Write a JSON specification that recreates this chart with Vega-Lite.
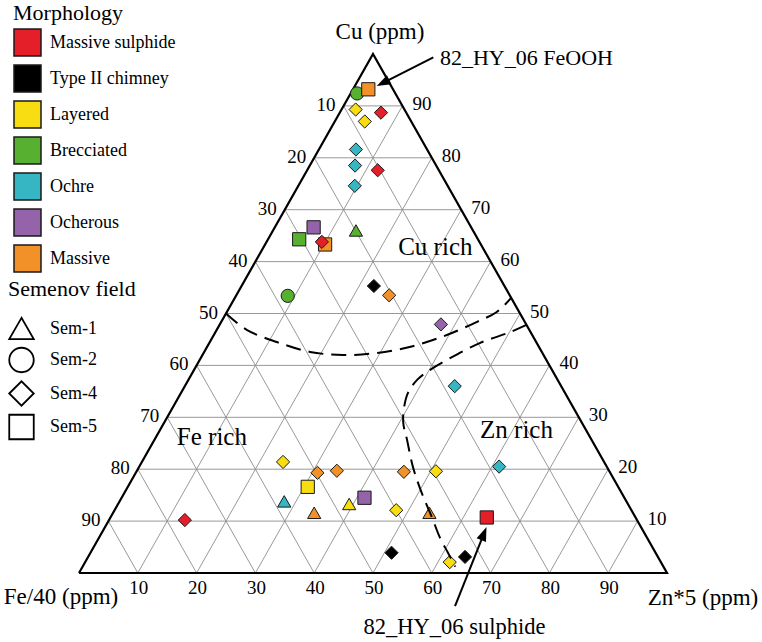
{
  "$schema": "https://vega.github.io/schema/vega-lite/v6.json",
  "width": 762,
  "height": 642,
  "autosize": "none",
  "padding": 0,
  "background": "white",
  "config": {
    "view": {"stroke": null},
    "font": "Liberation Serif"
  },
  "datasets": {
    "samples": [
      {"morph": "Brecciated", "sem": "Sem-2", "cu": 92.4, "zn": 1.1, "fe": 6.5},
      {"morph": "Massive", "sem": "Sem-5", "cu": 93.2, "zn": 2.6, "fe": 4.2},
      {"morph": "Layered", "sem": "Sem-4", "cu": 89.3, "zn": 2.4, "fe": 8.3},
      {"morph": "Massive sulphide", "sem": "Sem-4", "cu": 88.7, "zn": 7.0, "fe": 4.3},
      {"morph": "Layered", "sem": "Sem-4", "cu": 87.0, "zn": 5.1, "fe": 7.9},
      {"morph": "Ochre", "sem": "Sem-4", "cu": 81.6, "zn": 6.3, "fe": 12.1},
      {"morph": "Ochre", "sem": "Sem-4", "cu": 78.5, "zn": 7.7, "fe": 13.8},
      {"morph": "Massive sulphide", "sem": "Sem-4", "cu": 77.6, "zn": 12.0, "fe": 10.4},
      {"morph": "Ochre", "sem": "Sem-4", "cu": 74.6, "zn": 9.6, "fe": 15.8},
      {"morph": "Ocherous", "sem": "Sem-5", "cu": 66.6, "zn": 6.6, "fe": 26.8},
      {"morph": "Brecciated", "sem": "Sem-5", "cu": 64.3, "zn": 5.3, "fe": 30.4},
      {"morph": "Brecciated", "sem": "Sem-1", "cu": 66.0, "zn": 14.1, "fe": 19.9},
      {"morph": "Massive", "sem": "Sem-5", "cu": 63.3, "zn": 10.2, "fe": 26.5},
      {"morph": "Massive sulphide", "sem": "Sem-4", "cu": 63.8, "zn": 9.4, "fe": 26.8},
      {"morph": "Brecciated", "sem": "Sem-2", "cu": 53.4, "zn": 8.8, "fe": 37.8},
      {"morph": "Type II chimney", "sem": "Sem-4", "cu": 55.3, "zn": 22.5, "fe": 22.2},
      {"morph": "Massive", "sem": "Sem-4", "cu": 53.5, "zn": 26.0, "fe": 20.5},
      {"morph": "Ocherous", "sem": "Sem-4", "cu": 47.9, "zn": 37.6, "fe": 14.5},
      {"morph": "Ochre", "sem": "Sem-4", "cu": 36.0, "zn": 45.9, "fe": 18.1},
      {"morph": "Layered", "sem": "Sem-4", "cu": 21.4, "zn": 24.0, "fe": 54.6},
      {"morph": "Massive", "sem": "Sem-4", "cu": 19.3, "zn": 30.9, "fe": 49.8},
      {"morph": "Massive", "sem": "Sem-4", "cu": 19.7, "zn": 34.0, "fe": 46.3},
      {"morph": "Layered", "sem": "Sem-5", "cu": 16.6, "zn": 30.6, "fe": 52.8},
      {"morph": "Ochre", "sem": "Sem-1", "cu": 13.8, "zn": 28.0, "fe": 58.2},
      {"morph": "Massive", "sem": "Sem-1", "cu": 11.6, "zn": 34.2, "fe": 54.2},
      {"morph": "Layered", "sem": "Sem-1", "cu": 13.3, "zn": 39.3, "fe": 47.4},
      {"morph": "Ocherous", "sem": "Sem-5", "cu": 14.5, "zn": 41.3, "fe": 44.2},
      {"morph": "Massive sulphide", "sem": "Sem-4", "cu": 10.2, "zn": 12.9, "fe": 76.9},
      {"morph": "Massive", "sem": "Sem-4", "cu": 19.5, "zn": 45.5, "fe": 35.0},
      {"morph": "Layered", "sem": "Sem-4", "cu": 19.6, "zn": 50.9, "fe": 29.5},
      {"morph": "Ochre", "sem": "Sem-4", "cu": 20.5, "zn": 61.2, "fe": 18.3},
      {"morph": "Layered", "sem": "Sem-4", "cu": 12.1, "zn": 47.9, "fe": 40.0},
      {"morph": "Massive", "sem": "Sem-1", "cu": 11.6, "zn": 53.8, "fe": 34.6},
      {"morph": "Massive sulphide", "sem": "Sem-5", "cu": 10.7, "zn": 64.0, "fe": 25.3},
      {"morph": "Type II chimney", "sem": "Sem-4", "cu": 3.9, "zn": 51.2, "fe": 44.9},
      {"morph": "Layered", "sem": "Sem-4", "cu": 2.1, "zn": 62.0, "fe": 35.9},
      {"morph": "Type II chimney", "sem": "Sem-4", "cu": 3.1, "zn": 64.1, "fe": 32.8}
    ],
    "grid": [
      {"cu1": 10, "zn1": 0, "cu2": 10, "zn2": 90},
      {"cu1": 20, "zn1": 0, "cu2": 20, "zn2": 80},
      {"cu1": 30, "zn1": 0, "cu2": 30, "zn2": 70},
      {"cu1": 40, "zn1": 0, "cu2": 40, "zn2": 60},
      {"cu1": 50, "zn1": 0, "cu2": 50, "zn2": 50},
      {"cu1": 60, "zn1": 0, "cu2": 60, "zn2": 40},
      {"cu1": 70, "zn1": 0, "cu2": 70, "zn2": 30},
      {"cu1": 80, "zn1": 0, "cu2": 80, "zn2": 20},
      {"cu1": 90, "zn1": 0, "cu2": 90, "zn2": 10},
      {"cu1": 0, "zn1": 10, "cu2": 90, "zn2": 10},
      {"cu1": 0, "zn1": 20, "cu2": 80, "zn2": 20},
      {"cu1": 0, "zn1": 30, "cu2": 70, "zn2": 30},
      {"cu1": 0, "zn1": 40, "cu2": 60, "zn2": 40},
      {"cu1": 0, "zn1": 50, "cu2": 50, "zn2": 50},
      {"cu1": 0, "zn1": 60, "cu2": 40, "zn2": 60},
      {"cu1": 0, "zn1": 70, "cu2": 30, "zn2": 70},
      {"cu1": 0, "zn1": 80, "cu2": 20, "zn2": 80},
      {"cu1": 0, "zn1": 90, "cu2": 10, "zn2": 90},
      {"cu1": 0, "zn1": 90, "cu2": 90, "zn2": 0},
      {"cu1": 0, "zn1": 80, "cu2": 80, "zn2": 0},
      {"cu1": 0, "zn1": 70, "cu2": 70, "zn2": 0},
      {"cu1": 0, "zn1": 60, "cu2": 60, "zn2": 0},
      {"cu1": 0, "zn1": 50, "cu2": 50, "zn2": 0},
      {"cu1": 0, "zn1": 40, "cu2": 40, "zn2": 0},
      {"cu1": 0, "zn1": 30, "cu2": 30, "zn2": 0},
      {"cu1": 0, "zn1": 20, "cu2": 20, "zn2": 0},
      {"cu1": 0, "zn1": 10, "cu2": 10, "zn2": 0}
    ],
    "outline": [
      {"i": 0, "cu": 0, "zn": 0},
      {"i": 1, "cu": 100, "zn": 0},
      {"i": 2, "cu": 0, "zn": 100},
      {"i": 3, "cu": 0, "zn": 0}
    ],
    "boundaries": [
      {"curve": "upper", "i": 0, "cu": 50.0, "zn": 0.0},
      {"curve": "upper", "i": 1, "cu": 46.8, "zn": 5.2},
      {"curve": "upper", "i": 2, "cu": 44.5, "zn": 11.4},
      {"curve": "upper", "i": 3, "cu": 42.6, "zn": 18.0},
      {"curve": "upper", "i": 4, "cu": 42.0, "zn": 23.9},
      {"curve": "upper", "i": 5, "cu": 42.4, "zn": 29.5},
      {"curve": "upper", "i": 6, "cu": 43.7, "zn": 34.9},
      {"curve": "upper", "i": 7, "cu": 45.9, "zn": 39.7},
      {"curve": "upper", "i": 8, "cu": 48.4, "zn": 43.5},
      {"curve": "upper", "i": 9, "cu": 50.3, "zn": 45.9},
      {"curve": "upper", "i": 10, "cu": 53.0, "zn": 47.0},
      {"curve": "lower", "i": 0, "cu": 47.8, "zn": 52.2},
      {"curve": "lower", "i": 1, "cu": 46.4, "zn": 50.1},
      {"curve": "lower", "i": 2, "cu": 44.3, "zn": 46.0},
      {"curve": "lower", "i": 3, "cu": 41.4, "zn": 42.4},
      {"curve": "lower", "i": 4, "cu": 39.1, "zn": 40.1},
      {"curve": "lower", "i": 5, "cu": 37.2, "zn": 38.9},
      {"curve": "lower", "i": 6, "cu": 34.7, "zn": 38.6},
      {"curve": "lower", "i": 7, "cu": 32.0, "zn": 39.3},
      {"curve": "lower", "i": 8, "cu": 28.9, "zn": 40.7},
      {"curve": "lower", "i": 9, "cu": 25.6, "zn": 43.0},
      {"curve": "lower", "i": 10, "cu": 20.4, "zn": 46.6},
      {"curve": "lower", "i": 11, "cu": 15.4, "zn": 50.6},
      {"curve": "lower", "i": 12, "cu": 10.8, "zn": 54.6},
      {"curve": "lower", "i": 13, "cu": 6.9, "zn": 57.9},
      {"curve": "lower", "i": 14, "cu": 3.9, "zn": 60.8},
      {"curve": "lower", "i": 15, "cu": 1.2, "zn": 63.4}
    ],
    "ticks": [
      {"side": "left", "label": "10", "cu": 90, "zn": 0},
      {"side": "left", "label": "20", "cu": 80, "zn": 0},
      {"side": "left", "label": "30", "cu": 70, "zn": 0},
      {"side": "left", "label": "40", "cu": 60, "zn": 0},
      {"side": "left", "label": "50", "cu": 50, "zn": 0},
      {"side": "left", "label": "60", "cu": 40, "zn": 0},
      {"side": "left", "label": "70", "cu": 30, "zn": 0},
      {"side": "left", "label": "80", "cu": 20, "zn": 0},
      {"side": "left", "label": "90", "cu": 10, "zn": 0},
      {"side": "right", "label": "90", "cu": 90, "zn": 10},
      {"side": "right", "label": "80", "cu": 80, "zn": 20},
      {"side": "right", "label": "70", "cu": 70, "zn": 30},
      {"side": "right", "label": "60", "cu": 60, "zn": 40},
      {"side": "right", "label": "50", "cu": 50, "zn": 50},
      {"side": "right", "label": "40", "cu": 40, "zn": 60},
      {"side": "right", "label": "30", "cu": 30, "zn": 70},
      {"side": "right", "label": "20", "cu": 20, "zn": 80},
      {"side": "right", "label": "10", "cu": 10, "zn": 90},
      {"side": "bottom", "label": "10", "cu": 0, "zn": 10},
      {"side": "bottom", "label": "20", "cu": 0, "zn": 20},
      {"side": "bottom", "label": "30", "cu": 0, "zn": 30},
      {"side": "bottom", "label": "40", "cu": 0, "zn": 40},
      {"side": "bottom", "label": "50", "cu": 0, "zn": 50},
      {"side": "bottom", "label": "60", "cu": 0, "zn": 60},
      {"side": "bottom", "label": "70", "cu": 0, "zn": 70},
      {"side": "bottom", "label": "80", "cu": 0, "zn": 80},
      {"side": "bottom", "label": "90", "cu": 0, "zn": 90}
    ],
    "vertices": [
      {"apex": "Cu", "label": "Cu (ppm)", "cu": 100, "zn": 0},
      {"apex": "Fe", "label": "Fe/40 (ppm)", "cu": 0, "zn": 0},
      {"apex": "Zn", "label": "Zn*5 (ppm)", "cu": 0, "zn": 100}
    ],
    "fields": [
      {"label": "Cu rich", "cu": 62.8, "zn": 29.2},
      {"label": "Zn rich", "cu": 27.6, "zn": 60.6},
      {"label": "Fe rich", "cu": 26.2, "zn": 9.5}
    ],
    "arrows": [
      {"sample": "FeOOH", "x": 60.26, "y": 99.36, "x2": 51.54, "y2": 94.36, "tx": 50.63, "ty": 93.83, "ang": 243.1},
      {"sample": "sulphide", "x": 63.95, "y": -6.36, "x2": 68.93, "y2": 7.79, "tx": 69.3, "ty": 8.86, "ang": 21.7}
    ],
    "notes": [
      {"label": "82_HY_06 FeOOH", "x": 61.39, "y": 99.23, "pos": "left"},
      {"label": "82_HY_06 sulphide", "x": 63.86, "y": -10.4, "pos": "center"}
    ]
  },
  "layer": [
    {
      "data": {"name": "grid"},
      "transform": [
        {"calculate": "datum.zn1 + datum.cu1 / 2", "as": "px1"},
        {"calculate": "datum.cu1", "as": "py1"},
        {"calculate": "datum.zn2 + datum.cu2 / 2", "as": "px2"},
        {"calculate": "datum.cu2", "as": "py2"}
      ],
      "mark": {"type": "rule", "stroke": "#8d8d8d", "strokeWidth": 0.9},
      "encoding": {
        "x": {"field": "px1", "type": "quantitative", "axis": null, "scale": {"domain": [0, 100], "range": [79, 667], "nice": false, "zero": false}},
        "y": {"field": "py1", "type": "quantitative", "axis": null, "scale": {"domain": [0, 100], "range": [573, 54], "nice": false, "zero": false}},
        "x2": {"field": "px2"},
        "y2": {"field": "py2"}
      }
    },
    {
      "data": {"name": "outline"},
      "transform": [
        {"calculate": "datum.zn + datum.cu / 2", "as": "px"},
        {"calculate": "datum.cu", "as": "py"}
      ],
      "mark": {"type": "line", "color": "black", "strokeWidth": 2.2, "strokeJoin": "miter", "strokeMiterLimit": 10},
      "encoding": {
        "x": {"field": "px", "type": "quantitative"},
        "y": {"field": "py", "type": "quantitative"},
        "order": {"field": "i", "type": "quantitative"}
      }
    },
    {
      "data": {"name": "samples"},
      "transform": [
        {"calculate": "datum.zn + datum.cu / 2", "as": "px"},
        {"calculate": "datum.cu", "as": "py"}
      ],
      "mark": {"type": "point", "filled": true, "opacity": 1, "stroke": "#1a1a1a", "strokeWidth": 1, "size": 175},
      "encoding": {
        "x": {"field": "px", "type": "quantitative"},
        "y": {"field": "py", "type": "quantitative"},
        "color": {
          "field": "morph",
          "type": "nominal",
          "scale": {
            "domain": ["Massive sulphide", "Type II chimney", "Layered", "Brecciated", "Ochre", "Ocherous", "Massive"],
            "range": ["#e41f2a", "#000000", "#f7dd12", "#58b031", "#36b6c2", "#9563a9", "#f29127"]
          },
          "legend": {
            "title": "Morphology",
            "orient": "none",
            "legendX": 13,
            "legendY": 3,
            "padding": 0,
            "symbolType": "square",
            "symbolSize": 729,
            "symbolStrokeColor": "#1a1a1a",
            "symbolStrokeWidth": 1.5,
            "symbolOpacity": 1,
            "labelFont": "Liberation Serif",
            "labelFontSize": 18,
            "labelColor": "black",
            "labelOffset": 8,
            "titleFont": "Liberation Serif",
            "titleFontSize": 22,
            "titleFontWeight": "normal",
            "titleColor": "black",
            "titlePadding": 3,
            "rowPadding": 3
          }
        },
        "shape": {
          "field": "sem",
          "type": "nominal",
          "scale": {
            "domain": ["Sem-1", "Sem-2", "Sem-4", "Sem-5"],
            "range": ["triangle-up", "circle", "diamond", "square"]
          },
          "legend": {
            "title": "Semenov field",
            "orient": "none",
            "legendX": 8,
            "legendY": 279,
            "padding": 0,
            "symbolSize": 600,
            "symbolFillColor": "white",
            "symbolStrokeColor": "black",
            "symbolStrokeWidth": 1.8,
            "symbolOpacity": 1,
            "labelFont": "Liberation Serif",
            "labelFontSize": 18,
            "labelColor": "black",
            "labelOffset": 15,
            "titleFont": "Liberation Serif",
            "titleFontSize": 22,
            "titleFontWeight": "normal",
            "titleColor": "black",
            "titlePadding": 14,
            "rowPadding": 0.5
          }
        }
      }
    },
    {
      "data": {"name": "boundaries"},
      "transform": [
        {"calculate": "datum.zn + datum.cu / 2", "as": "px"},
        {"calculate": "datum.cu", "as": "py"}
      ],
      "mark": {"type": "line", "color": "black", "strokeWidth": 2, "strokeDash": [15, 8], "interpolate": "catmull-rom"},
      "encoding": {
        "x": {"field": "px", "type": "quantitative"},
        "y": {"field": "py", "type": "quantitative"},
        "detail": {"field": "curve", "type": "nominal"},
        "order": {"field": "i", "type": "quantitative"}
      }
    },
    {
      "data": {"name": "ticks"},
      "transform": [
        {"filter": "datum.side == 'left'"},
        {"calculate": "datum.zn + datum.cu / 2", "as": "px"},
        {"calculate": "datum.cu", "as": "py"}
      ],
      "mark": {"type": "text", "font": "Liberation Serif", "color": "black", "align": "right", "baseline": "middle", "dx": -8, "dy": -1, "fontSize": 19},
      "encoding": {
        "x": {"field": "px", "type": "quantitative"},
        "y": {"field": "py", "type": "quantitative"},
        "text": {"field": "label"}
      }
    },
    {
      "data": {"name": "ticks"},
      "transform": [
        {"filter": "datum.side == 'right'"},
        {"calculate": "datum.zn + datum.cu / 2", "as": "px"},
        {"calculate": "datum.cu", "as": "py"}
      ],
      "mark": {"type": "text", "font": "Liberation Serif", "color": "black", "align": "left", "baseline": "middle", "dx": 10, "dy": -2, "fontSize": 19},
      "encoding": {
        "x": {"field": "px", "type": "quantitative"},
        "y": {"field": "py", "type": "quantitative"},
        "text": {"field": "label"}
      }
    },
    {
      "data": {"name": "ticks"},
      "transform": [
        {"filter": "datum.side == 'bottom'"},
        {"calculate": "datum.zn + datum.cu / 2", "as": "px"},
        {"calculate": "datum.cu", "as": "py"}
      ],
      "mark": {"type": "text", "font": "Liberation Serif", "color": "black", "align": "center", "baseline": "middle", "dx": 1, "dy": 15, "fontSize": 19},
      "encoding": {
        "x": {"field": "px", "type": "quantitative"},
        "y": {"field": "py", "type": "quantitative"},
        "text": {"field": "label"}
      }
    },
    {
      "data": {"name": "vertices"},
      "transform": [
        {"filter": "datum.apex == 'Cu'"},
        {"calculate": "datum.zn + datum.cu / 2", "as": "px"},
        {"calculate": "datum.cu", "as": "py"}
      ],
      "mark": {"type": "text", "font": "Liberation Serif", "color": "black", "align": "center", "baseline": "middle", "dx": 7, "dy": -22, "fontSize": 23},
      "encoding": {
        "x": {"field": "px", "type": "quantitative"},
        "y": {"field": "py", "type": "quantitative"},
        "text": {"field": "label"}
      }
    },
    {
      "data": {"name": "vertices"},
      "transform": [
        {"filter": "datum.apex == 'Fe'"},
        {"calculate": "datum.zn + datum.cu / 2", "as": "px"},
        {"calculate": "datum.cu", "as": "py"}
      ],
      "mark": {"type": "text", "font": "Liberation Serif", "color": "black", "align": "center", "baseline": "middle", "dx": -18, "dy": 24, "fontSize": 23},
      "encoding": {
        "x": {"field": "px", "type": "quantitative"},
        "y": {"field": "py", "type": "quantitative"},
        "text": {"field": "label"}
      }
    },
    {
      "data": {"name": "vertices"},
      "transform": [
        {"filter": "datum.apex == 'Zn'"},
        {"calculate": "datum.zn + datum.cu / 2", "as": "px"},
        {"calculate": "datum.cu", "as": "py"}
      ],
      "mark": {"type": "text", "font": "Liberation Serif", "color": "black", "align": "center", "baseline": "middle", "dx": 36, "dy": 25, "fontSize": 23},
      "encoding": {
        "x": {"field": "px", "type": "quantitative"},
        "y": {"field": "py", "type": "quantitative"},
        "text": {"field": "label"}
      }
    },
    {
      "data": {"name": "fields"},
      "transform": [
        {"calculate": "datum.zn + datum.cu / 2", "as": "px"},
        {"calculate": "datum.cu", "as": "py"}
      ],
      "mark": {"type": "text", "font": "Liberation Serif", "color": "black", "align": "center", "baseline": "middle", "fontSize": 25},
      "encoding": {
        "x": {"field": "px", "type": "quantitative"},
        "y": {"field": "py", "type": "quantitative"},
        "text": {"field": "label"}
      }
    },
    {
      "data": {"name": "arrows"},
      "mark": {"type": "rule", "color": "black", "strokeWidth": 2},
      "encoding": {
        "x": {"field": "x", "type": "quantitative"},
        "y": {"field": "y", "type": "quantitative"},
        "x2": {"field": "x2"},
        "y2": {"field": "y2"}
      }
    },
    {
      "data": {"name": "arrows"},
      "mark": {"type": "point", "shape": "M0,0L-0.36,1L0.36,1Z", "filled": true, "color": "black", "opacity": 1, "size": 784, "strokeWidth": 0},
      "encoding": {
        "x": {"field": "tx", "type": "quantitative"},
        "y": {"field": "ty", "type": "quantitative"},
        "angle": {"field": "ang", "type": "quantitative", "scale": null}
      }
    },
    {
      "data": {"name": "notes"},
      "transform": [{"filter": "datum.pos == 'left'"}],
      "mark": {"type": "text", "font": "Liberation Serif", "color": "black", "align": "left", "baseline": "middle", "fontSize": 22},
      "encoding": {
        "x": {"field": "x", "type": "quantitative"},
        "y": {"field": "y", "type": "quantitative"},
        "text": {"field": "label"}
      }
    },
    {
      "data": {"name": "notes"},
      "transform": [{"filter": "datum.pos == 'center'"}],
      "mark": {"type": "text", "font": "Liberation Serif", "color": "black", "align": "center", "baseline": "middle", "fontSize": 22.5},
      "encoding": {
        "x": {"field": "x", "type": "quantitative"},
        "y": {"field": "y", "type": "quantitative"},
        "text": {"field": "label"}
      }
    }
  ]
}
